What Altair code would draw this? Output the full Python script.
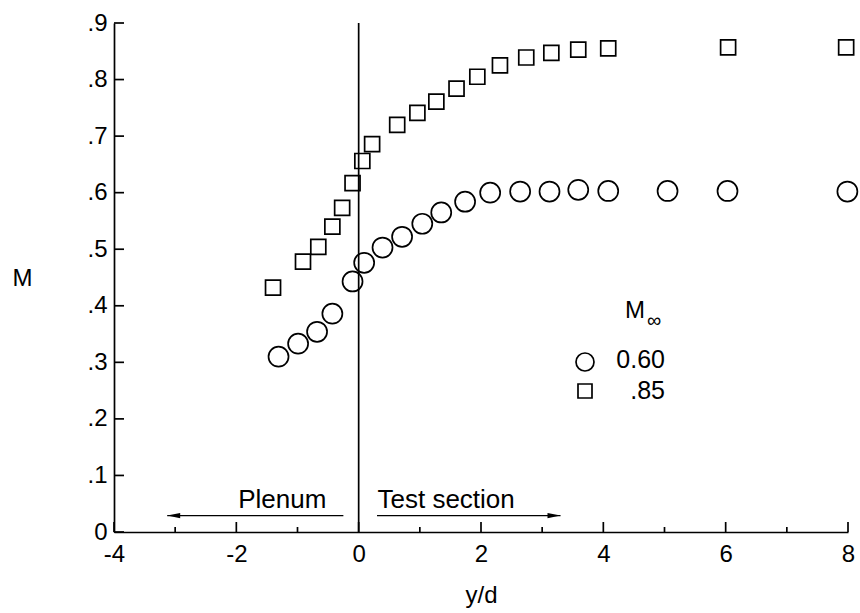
import altair as alt
import pandas as pd

# ---- data ----
yd_060 = [-1.31, -0.99, -0.68, -0.43, -0.10, 0.09, 0.39, 0.71, 1.04, 1.35,
          1.74, 2.15, 2.64, 3.12, 3.59, 4.08, 5.05, 6.03, 7.99]
m_060 = [0.310, 0.333, 0.354, 0.386, 0.443, 0.476, 0.503, 0.522, 0.545, 0.565,
         0.584, 0.600, 0.602, 0.602, 0.605, 0.603, 0.603, 0.603, 0.602]

yd_085 = [-1.40, -0.91, -0.66, -0.43, -0.27, -0.10, 0.06, 0.22, 0.63, 0.96,
          1.27, 1.60, 1.94, 2.31, 2.74, 3.15, 3.59, 4.08, 6.04, 7.97]
m_085 = [0.432, 0.478, 0.504, 0.540, 0.573, 0.617, 0.656, 0.686, 0.720, 0.741,
         0.761, 0.784, 0.805, 0.825, 0.839, 0.847, 0.853, 0.855, 0.857, 0.857]

mach_inf = ["0.60", ".85"]

x_major = [-4, -2, 0, 2, 4, 6, 8]
x_minor = [-3, -1, 1, 3, 5, 7]
y_major = [0.0, 0.1, 0.2, 0.3, 0.4, 0.5, 0.6, 0.7, 0.8, 0.9]

divider_x = [0.0]
arrow_labels = ["Plenum", "Test section"]
arrow_start = [-0.25, 0.30]
arrow_end = [-3.13, 3.30]
arrow_y = [0.029, 0.029]
label_x = [-1.25, 1.43]
label_y = [0.043, 0.043]

# ---- layout / style ----
W, H = 734, 509
FONT = "Liberation Sans"
FS = 24
LW = 1.7

xs = alt.Scale(domain=[-4, 8], nice=False, zero=False)
ys = alt.Scale(domain=[0, 0.9], nice=False, zero=False)

xaxis = alt.Axis(values=x_major, labelExpr="'' + datum.value", ticks=False, tickSize=0,
                 grid=False, domainColor="black", domainWidth=LW, labelFont=FONT,
                 labelFontSize=FS, labelColor="black", labelPadding=10, labelFlush=False,
                 title="y/d", titleFont=FONT, titleFontSize=FS, titleFontWeight="normal",
                 titleColor="black", titleX=W / 2, titleY=63, titleAlign="center",
                 titleBaseline="middle")
yaxis = alt.Axis(values=y_major,
                 labelExpr="datum.value == 0 ? '0' : slice(format(datum.value, '.1f'), 1)",
                 ticks=False, tickSize=0, grid=False, domainColor="black", domainWidth=LW,
                 labelFont=FONT, labelFontSize=FS, labelColor="black", labelPadding=7,
                 labelFlush=False, labelOverlap=False,
                 title="M", titleFont=FONT, titleFontSize=FS, titleFontWeight="normal",
                 titleColor="black", titleAngle=0, titleX=-92, titleY=H / 2 + 1,
                 titleAlign="center", titleBaseline="middle")

df060 = pd.DataFrame({"yd": yd_060, "M": m_060})
df085 = pd.DataFrame({"yd": yd_085, "M": m_085})

circles = alt.Chart(df060).mark_point(shape="circle", filled=False, size=400,
                                      strokeWidth=LW, color="black", opacity=1).encode(
    x=alt.X("yd:Q", scale=xs, axis=xaxis),
    y=alt.Y("M:Q", scale=ys, axis=yaxis),
)
squares = alt.Chart(df085).mark_point(shape="square", filled=False, size=225,
                                      strokeWidth=LW, color="black", opacity=1).encode(
    x=alt.X("yd:Q", scale=xs, axis=xaxis),
    y=alt.Y("M:Q", scale=ys, axis=yaxis),
)

divider = alt.Chart(pd.DataFrame({"x": divider_x, "y0": [0.0], "y1": [0.9]})).mark_rule(
    color="black", strokeWidth=LW).encode(
    x=alt.X("x:Q", scale=xs, axis=xaxis),
    y=alt.Y("y0:Q", scale=ys, axis=yaxis),
    y2="y1:Q",
)

arrows_df = pd.DataFrame({"label": arrow_labels, "x0": arrow_start, "x1": arrow_end,
                          "y": arrow_y, "lx": label_x, "ly": label_y})
arrow_lines = alt.Chart(arrows_df).mark_rule(color="black", strokeWidth=1.2).encode(
    x=alt.X("x0:Q", scale=xs, axis=xaxis), x2="x1:Q",
    y=alt.Y("y:Q", scale=ys, axis=yaxis),
)
head_left = alt.Chart(arrows_df.iloc[[0]]).mark_point(
    shape="M0,0L2,-0.4L2,0.4Z", filled=True, size=169, color="black", opacity=1).encode(
    x=alt.X("x1:Q", scale=xs, axis=xaxis), y=alt.Y("y:Q", scale=ys, axis=yaxis))
head_right = alt.Chart(arrows_df.iloc[[1]]).mark_point(
    shape="M0,0L-2,-0.4L-2,0.4Z", filled=True, size=169, color="black", opacity=1).encode(
    x=alt.X("x1:Q", scale=xs, axis=xaxis), y=alt.Y("y:Q", scale=ys, axis=yaxis))
arrow_text = alt.Chart(arrows_df).mark_text(font=FONT, fontSize=26, color="black",
                                            align="center", baseline="alphabetic").encode(
    x=alt.X("lx:Q", scale=xs, axis=xaxis), y=alt.Y("ly:Q", scale=ys, axis=yaxis),
    text="label:N")

# inward axis ticks
xt_major = alt.Chart(pd.DataFrame({"v": x_major})).mark_rule(color="black", strokeWidth=LW).encode(
    x=alt.X("v:Q", scale=xs, axis=xaxis), y=alt.value(H), y2=alt.value(H - 10))
xt_minor = alt.Chart(pd.DataFrame({"v": x_minor})).mark_rule(color="black", strokeWidth=LW).encode(
    x=alt.X("v:Q", scale=xs, axis=xaxis), y=alt.value(H), y2=alt.value(H - 5))
yt_major = alt.Chart(pd.DataFrame({"v": y_major})).mark_rule(color="black", strokeWidth=LW).encode(
    y=alt.Y("v:Q", scale=ys, axis=yaxis), x=alt.value(0), x2=alt.value(10))

# legend (drawn in the plot as in the reference)
LX_SYM, LX_TXT = 471, 551
leg_title_m = alt.Chart(pd.DataFrame({"t": ["M"]})).mark_text(
    font=FONT, fontSize=FS, color="black", align="center", baseline="middle").encode(
    x=alt.value(521), y=alt.value(288), text="t:N")
leg_title_inf = alt.Chart(pd.DataFrame({"t": ["\u221e"]})).mark_text(
    font=FONT, fontSize=20, color="black", align="center", baseline="middle").encode(
    x=alt.value(540), y=alt.value(298), text="t:N")
leg_c = alt.Chart(pd.DataFrame({"s": [mach_inf[0]]})).mark_point(
    shape="circle", filled=False, size=324, strokeWidth=LW, color="black", opacity=1).encode(
    x=alt.value(LX_SYM), y=alt.value(339))
leg_s = alt.Chart(pd.DataFrame({"s": [mach_inf[1]]})).mark_point(
    shape="square", filled=False, size=196, strokeWidth=LW, color="black", opacity=1).encode(
    x=alt.value(LX_SYM), y=alt.value(368))
leg_t1 = alt.Chart(pd.DataFrame({"s": [mach_inf[0]]})).mark_text(
    font=FONT, fontSize=25, color="black", align="right", baseline="middle").encode(
    x=alt.value(LX_TXT), y=alt.value(337), text="s:N")
leg_t2 = alt.Chart(pd.DataFrame({"s": [mach_inf[1]]})).mark_text(
    font=FONT, fontSize=25, color="black", align="right", baseline="middle").encode(
    x=alt.value(LX_TXT), y=alt.value(368), text="s:N")

chart = alt.layer(
    circles, squares, divider, arrow_lines, head_left, head_right, arrow_text,
    xt_major, xt_minor, yt_major,
    leg_title_m, leg_title_inf, leg_c, leg_s, leg_t1, leg_t2,
).properties(
    width=W, height=H,
    padding={"left": 114, "top": 23, "right": 12, "bottom": 81},
    autosize=alt.AutoSizeParams(type="none"),
    background="white",
).configure_view(stroke=None)

chart.save("out.html", embed_options={"renderer": "svg", "actions": False})
